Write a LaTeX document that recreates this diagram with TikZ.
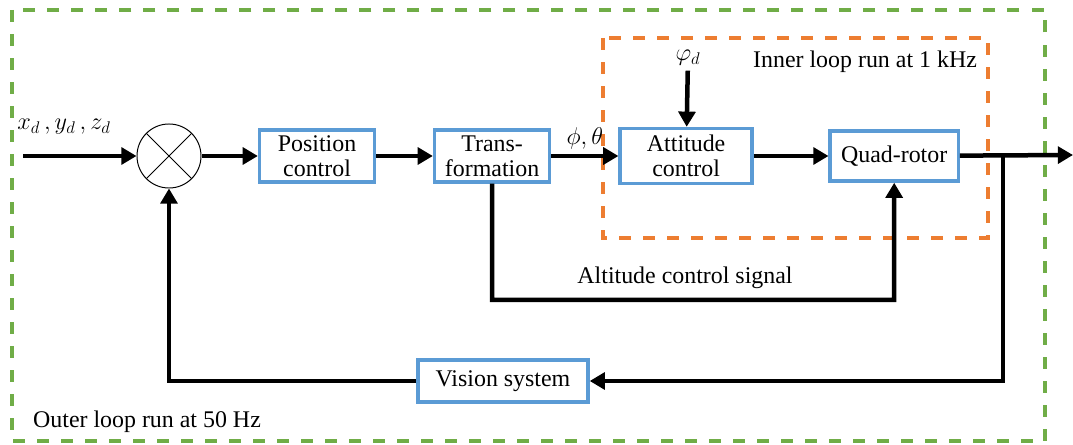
\documentclass[tikz,border=0pt]{standalone}
\usepackage{amsmath}
\usepackage{amssymb}
\usepackage{fontspec}
\setmainfont{Liberation Serif}
\usepackage{tikz}
\usetikzlibrary{arrows.meta}
\definecolor{blockblue}{RGB}{91,155,213}
\definecolor{innerorange}{RGB}{237,125,49}
\definecolor{outergreen}{RGB}{112,173,71}

\begin{document}
\begin{tikzpicture}[x=0.025cm, y=-0.025cm, font=\fontsize{17}{17.5}\selectfont]
\tikzstyle{block} = [rectangle, draw=blockblue, line width=2.4pt, align=center, fill=white]
\tikzstyle{sig} = [line width=3.2pt, -{Triangle[length=0.38cm, width=0.42cm]}]
\tikzstyle{loopbox} = [line width=2.4pt, dash pattern=on 0.3cm off 0.3cm]
\useasboundingbox (0,0) rectangle (1073,445);
% loop frames
\draw[loopbox, draw=outergreen] (12,10) rectangle (1045,441);
\draw[loopbox, draw=innerorange] (603,38) rectangle (988,238);
\node (outertxt) at (147,422) {Outer loop run at 50 Hz};
\node (innertxt) at (865,62) {Inner loop run at 1 kHz};
% blocks
\node[circle, draw, line width=0.7pt, minimum size=1.6cm, fill=white] (sum) at (169,156) {};
\draw[line width=0.7pt] (sum.45) -- (sum.225) (sum.135) -- (sum.315);
\node[block, minimum width=2.875cm, minimum height=1.3cm, right of=sum, node distance=3.7cm] (pos) {Position\\control};
\node[block, minimum width=2.875cm, minimum height=1.3cm, right of=pos, node distance=4.375cm] (trans) {Trans-\\formation};
\node[block, minimum width=3.3cm, minimum height=1.375cm, right of=trans, node distance=4.85cm] (att) {Attitude\\control};
\node[block, minimum width=3.2cm, minimum height=1.25cm, right of=att, node distance=5.2cm] (quad) {Quad-rotor};
\node[block, minimum width=4.25cm, minimum height=1.05cm] (vis) at (503,381) {Vision system};
% signals
\node (xyz) at (64,127) {$x_d\,, y_d\,, z_d$};
\node (phid) at (688,58) {$\varphi_d$};
\node (alttxt) at (685,278) {Altitude control signal};
\coordinate (in) at (23,156);
\coordinate (out) at (1073,155);
\coordinate (br) at (1003,155);
\coordinate (alt) at (492,300);
\draw[sig] (in) -- (sum);
\draw[sig] (sum) -- (pos);
\draw[sig] (pos) -- (trans);
\draw[sig] (trans) -- node[above] {$\phi,\theta$} (att);
\draw[sig] (phid) -- (att);
\draw[sig] (att) -- (quad);
\draw[sig] (quad) -- (out);
\draw[sig] (trans) -- (alt) -| (quad);
\draw[sig] (br) |- (vis);
\draw[sig] (vis) -| (sum);
\end{tikzpicture}
\end{document}
